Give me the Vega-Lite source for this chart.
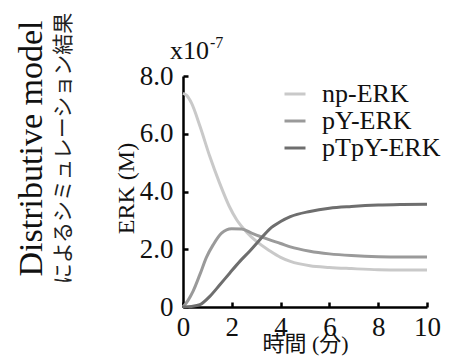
{
  "$schema": "https://vega.github.io/schema/vega-lite/v6.json",
  "width": 244,
  "height": 231,
  "autosize": {"type": "none"},
  "padding": {"left": 183, "top": 76, "right": 25, "bottom": 56},
  "background": "white",
  "title": {
    "text": "Distributive model",
    "subtitle": "によるシミュレーション結果",
    "orient": "left",
    "anchor": "middle",
    "font": "Liberation Serif",
    "fontSize": 34,
    "fontWeight": "normal",
    "color": "#111",
    "subtitleFont": "Noto Sans CJK JP",
    "subtitleFontSize": 21,
    "subtitleColor": "#222",
    "subtitlePadding": 4,
    "offset": 40,
    "dx": 43
  },
  "config": {
    "view": {"stroke": null},
    "font": "Liberation Serif",
    "axis": {
      "domainColor": "#000",
      "domainWidth": 2.5,
      "tickColor": "#000",
      "tickWidth": 2.5,
      "tickSize": -5,
      "grid": false,
      "labelFont": "Liberation Serif",
      "labelFontSize": 27,
      "labelColor": "#111",
      "titleFont": "Liberation Serif, Noto Sans CJK JP",
      "titleFontWeight": "normal",
      "titleColor": "#111"
    }
  },
  "data": {
    "values": [
      {"t": 0, "v": 7.40, "s": "np-ERK"},
      {"t": 0.15, "v": 7.33, "s": "np-ERK"},
      {"t": 0.35, "v": 7.06, "s": "np-ERK"},
      {"t": 0.7, "v": 6.25, "s": "np-ERK"},
      {"t": 1.1, "v": 5.21, "s": "np-ERK"},
      {"t": 1.5, "v": 4.29, "s": "np-ERK"},
      {"t": 1.9, "v": 3.48, "s": "np-ERK"},
      {"t": 2.2, "v": 3.02, "s": "np-ERK"},
      {"t": 2.6, "v": 2.60, "s": "np-ERK"},
      {"t": 3.0, "v": 2.28, "s": "np-ERK"},
      {"t": 3.55, "v": 1.95, "s": "np-ERK"},
      {"t": 4.0, "v": 1.72, "s": "np-ERK"},
      {"t": 4.4, "v": 1.58, "s": "np-ERK"},
      {"t": 5.2, "v": 1.43, "s": "np-ERK"},
      {"t": 6.0, "v": 1.37, "s": "np-ERK"},
      {"t": 6.9, "v": 1.33, "s": "np-ERK"},
      {"t": 8.0, "v": 1.29, "s": "np-ERK"},
      {"t": 9.0, "v": 1.28, "s": "np-ERK"},
      {"t": 10, "v": 1.28, "s": "np-ERK"},
      {"t": 0, "v": 0, "s": "pY-ERK"},
      {"t": 0.2, "v": 0.22, "s": "pY-ERK"},
      {"t": 0.42, "v": 0.56, "s": "pY-ERK"},
      {"t": 0.69, "v": 1.12, "s": "pY-ERK"},
      {"t": 0.96, "v": 1.72, "s": "pY-ERK"},
      {"t": 1.24, "v": 2.16, "s": "pY-ERK"},
      {"t": 1.58, "v": 2.56, "s": "pY-ERK"},
      {"t": 1.99, "v": 2.71, "s": "pY-ERK"},
      {"t": 2.4, "v": 2.70, "s": "pY-ERK"},
      {"t": 2.81, "v": 2.56, "s": "pY-ERK"},
      {"t": 3.5, "v": 2.34, "s": "pY-ERK"},
      {"t": 4.0, "v": 2.20, "s": "pY-ERK"},
      {"t": 4.4, "v": 2.08, "s": "pY-ERK"},
      {"t": 5.2, "v": 1.93, "s": "pY-ERK"},
      {"t": 6.0, "v": 1.84, "s": "pY-ERK"},
      {"t": 6.9, "v": 1.78, "s": "pY-ERK"},
      {"t": 8.0, "v": 1.74, "s": "pY-ERK"},
      {"t": 9.0, "v": 1.73, "s": "pY-ERK"},
      {"t": 10, "v": 1.73, "s": "pY-ERK"},
      {"t": 0, "v": 0, "s": "pTpY-ERK"},
      {"t": 0.35, "v": 0.02, "s": "pTpY-ERK"},
      {"t": 0.69, "v": 0.08, "s": "pTpY-ERK"},
      {"t": 1.1, "v": 0.37, "s": "pTpY-ERK"},
      {"t": 1.51, "v": 0.77, "s": "pTpY-ERK"},
      {"t": 1.92, "v": 1.18, "s": "pTpY-ERK"},
      {"t": 2.33, "v": 1.58, "s": "pTpY-ERK"},
      {"t": 2.74, "v": 1.94, "s": "pTpY-ERK"},
      {"t": 3.15, "v": 2.33, "s": "pTpY-ERK"},
      {"t": 3.55, "v": 2.70, "s": "pTpY-ERK"},
      {"t": 4.0, "v": 2.96, "s": "pTpY-ERK"},
      {"t": 4.4, "v": 3.13, "s": "pTpY-ERK"},
      {"t": 5.2, "v": 3.31, "s": "pTpY-ERK"},
      {"t": 6.0, "v": 3.42, "s": "pTpY-ERK"},
      {"t": 6.9, "v": 3.48, "s": "pTpY-ERK"},
      {"t": 8.0, "v": 3.53, "s": "pTpY-ERK"},
      {"t": 9.0, "v": 3.55, "s": "pTpY-ERK"},
      {"t": 10, "v": 3.56, "s": "pTpY-ERK"}
    ]
  },
  "layer": [
    {
      "mark": {"type": "line", "strokeWidth": 3, "interpolate": "monotone"},
      "encoding": {
        "x": {
          "field": "t", "type": "quantitative",
          "scale": {"domain": [0, 10], "nice": false},
          "axis": {"values": [0, 2, 4, 6, 8, 10], "title": "時間 (分)", "titleFontSize": 22, "titlePadding": -7, "labelPadding": 12, "labelFlush": false}
        },
        "y": {
          "field": "v", "type": "quantitative",
          "scale": {"domain": [0, 8], "nice": false},
          "axis": {"values": [0, 2, 4, 6, 8], "labelExpr": "datum.value == 0 ? '0' : format(datum.value, '.1f')", "title": "ERK (M)", "titleFontSize": 24, "titleX": -57, "titleY": 112, "titleBaseline": "middle", "titleAlign": "center", "labelPadding": 15}
        },
        "color": {
          "field": "s", "type": "nominal",
          "scale": {"domain": ["np-ERK", "pY-ERK", "pTpY-ERK"], "range": ["#c9c9c9", "#9a9a9a", "#6e6e6e"]},
          "legend": {
            "title": null,
            "orient": "none",
            "legendX": 99,
            "legendY": 5,
            "symbolType": "stroke",
            "symbolSize": 441,
            "symbolStrokeWidth": 3,
            "labelFont": "Liberation Serif",
            "labelFontSize": 26,
            "labelColor": "#111",
            "labelOffset": 14,
            "rowPadding": 1
          }
        }
      }
    },
    {
      "data": {"values": [{"lbl": "x10"}]},
      "mark": {"type": "text", "align": "left", "baseline": "alphabetic", "fontSize": 26, "fontWeight": "normal", "font": "Liberation Serif", "color": "#111", "dx": -13, "dy": -17},
      "encoding": {"x": {"datum": 0}, "y": {"datum": 8}, "text": {"field": "lbl"}}
    },
    {
      "data": {"values": [{"lbl": "-7"}]},
      "mark": {"type": "text", "align": "left", "baseline": "alphabetic", "fontSize": 16, "fontWeight": "normal", "font": "Liberation Serif", "color": "#111", "dx": 27, "dy": -28},
      "encoding": {"x": {"datum": 0}, "y": {"datum": 8}, "text": {"field": "lbl"}}
    }
  ]
}
